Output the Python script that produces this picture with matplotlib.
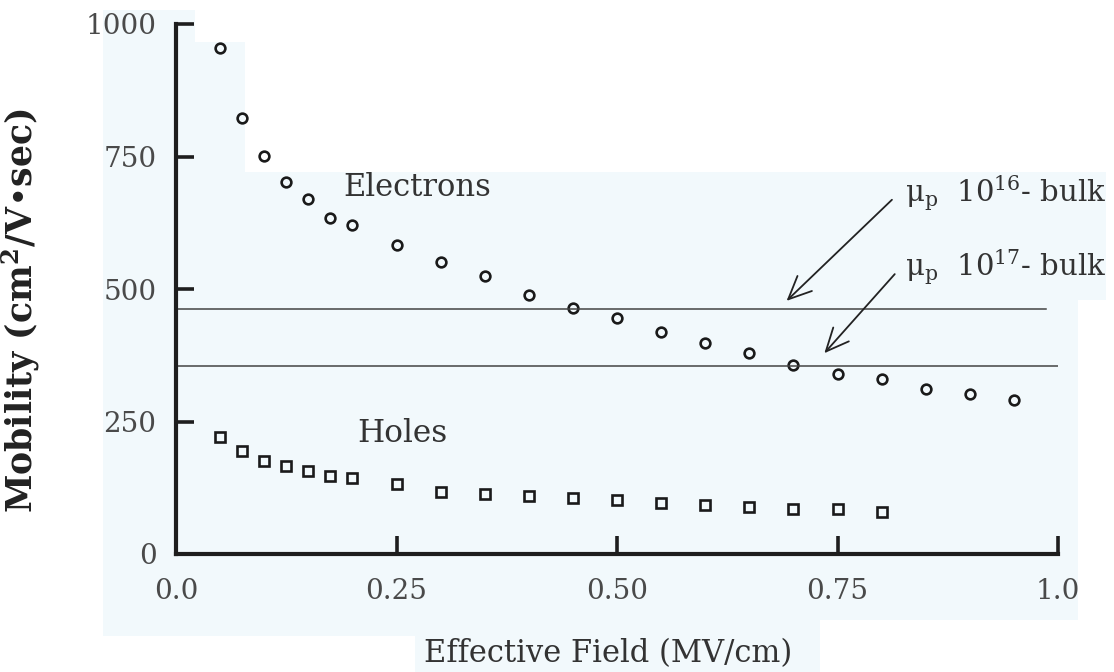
import matplotlib.pyplot as plt
from matplotlib.patches import Polygon

plt.rcParams['font.family'] = ['DejaVu Serif']
plt.rcParams['mathtext.fontset'] = 'dejavuserif'

# Effective field (MV/cm) and inversion-layer mobility (cm^2/V.sec)
field_e = [0.05, 0.075, 0.10, 0.125, 0.15, 0.175, 0.20, 0.25, 0.30, 0.35, 0.40,
           0.45, 0.50, 0.55, 0.60, 0.65, 0.70, 0.75, 0.80, 0.85, 0.90, 0.95]
mu_electrons = [955, 823, 751, 702, 670, 634, 621, 583, 551, 525, 489,
                464, 445, 419, 398, 379, 357, 340, 330, 311, 302, 291]

field_h = [0.05, 0.075, 0.10, 0.125, 0.15, 0.175, 0.20, 0.25, 0.30, 0.35,
           0.40, 0.45, 0.50, 0.55, 0.60, 0.65, 0.70, 0.75, 0.80]
mu_holes = [221, 194, 175, 166, 157, 147, 143, 132, 117, 113,
            109, 106, 102, 96, 92, 89, 85, 85, 79]

# bulk hole mobility reference levels
bulk_labels = ['16', '17']
bulk_mu = [462, 355]
bulk_end = [0.986, 1.0]

x_ticks = [0.0, 0.25, 0.50, 0.75, 1.0]
x_ticklabels = ['0.0', '0.25', '0.50', '0.75', '1.0']
y_ticks = [0, 250, 500, 750, 1000]

fig = plt.figure(figsize=(11.14, 6.72), dpi=100)
fig.patch.set_facecolor('white')

# faint paper tint behind the plot
W, H = 1114.0, 672.0
tint = [(103, 10), (195, 10), (195, 42), (245, 42), (245, 172), (1106, 172),
        (1106, 300), (1078, 300), (1078, 620), (820, 620), (820, 672),
        (415, 672), (415, 636), (103, 636)]
bg = fig.add_axes([0, 0, 1, 1], zorder=-1)
bg.set_axis_off()
bg.add_patch(Polygon([(x / W, 1 - y / H) for x, y in tint], closed=True,
                     transform=bg.transAxes, facecolor='#f2f9fc',
                     edgecolor='none'))

ax = fig.add_axes([176 / W, 1 - 554 / H, 882 / W, 530 / H], zorder=1)
ax.set_facecolor('none')

ax.plot(field_e, mu_electrons, 'o', ms=7, mfc='none', mec='#1a1a1a', mew=1.9,
        clip_on=False)
ax.plot(field_h, mu_holes, 's', ms=7.5, mfc='none', mec='#1a1a1a', mew=1.9,
        clip_on=False)

for mu, xe in zip(bulk_mu, bulk_end):
    ax.plot([0, xe], [mu, mu], color='#444444', lw=1.1)

ax.text(0.19, 692, 'Electrons', fontsize=22, color='#333333', va='center')
ax.text(0.206, 228, 'Holes', fontsize=22.5, color='#333333', va='center')

# labels and arrows pointing at the bulk lines
label_y = [680, 540]
arrow_tail = [(0.814, 672), (0.817, 532)]
arrow_head = [(0.69, 474), (0.733, 375)]
for lab, ly, tail, head in zip(bulk_labels, label_y, arrow_tail, arrow_head):
    ax.annotate('', xy=head, xytext=tail,
                arrowprops=dict(arrowstyle='->,head_length=0.55,head_width=0.25',
                                color='#222222', lw=1.3, mutation_scale=30))
    ax.text(0.826, ly, 'μ$_\\mathrm{p}$  10$^{%s}$- bulk' % lab, fontsize=21,
            color='#333333', va='center', clip_on=False)

ax.set_xlim(0, 1.0)
ax.set_ylim(0, 1000)
ax.set_xticks(x_ticks)
ax.set_xticklabels(x_ticklabels)
ax.set_yticks(y_ticks)

for side in ['top', 'right']:
    ax.spines[side].set_visible(False)
for side in ['left', 'bottom']:
    ax.spines[side].set_linewidth(3)
    ax.spines[side].set_color('#1e1e1e')

ax.tick_params(direction='in', length=13, width=2.6, color='#1e1e1e',
               labelsize=20, labelcolor='#4a4a4a')
ax.tick_params(axis='x', pad=17)
ax.tick_params(axis='y', pad=14)

ax.set_xlabel('Effective Field (MV/cm)', fontsize=22, color='#333333')
ax.xaxis.set_label_coords(0.49, -0.158)
ax.set_ylabel('Mobility (cm$^\\mathbf{2}$/V\u2022sec)', fontsize=25,
              fontweight='bold', color='#222222')
ax.yaxis.set_label_coords(-0.152, 0.46)

fig.savefig('out.png', dpi=100)
